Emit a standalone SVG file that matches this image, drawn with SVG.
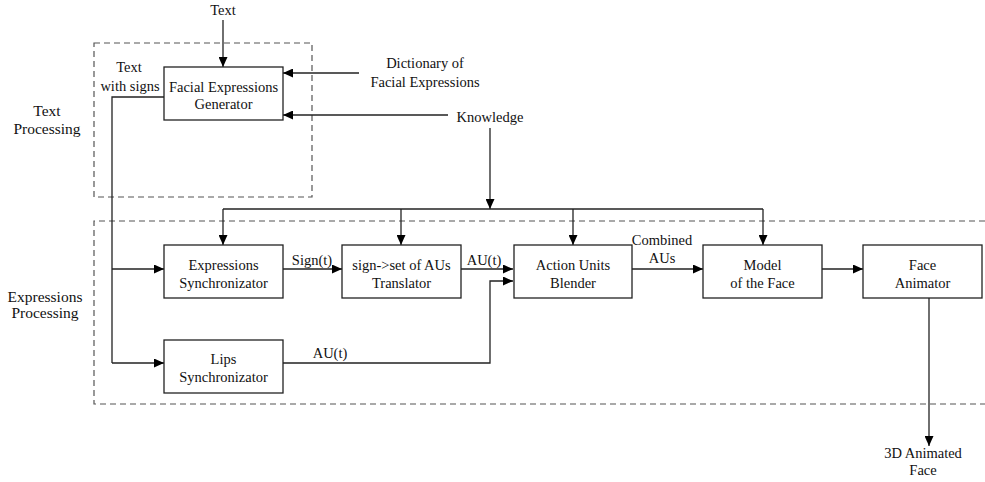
<svg xmlns="http://www.w3.org/2000/svg" width="985" height="482" viewBox="0 0 985 482">
<style>
text{font-family:"Liberation Serif","Times New Roman",serif;font-size:14.5px;fill:#111;text-anchor:middle}
.side{font-size:15.5px}
.box{fill:#fff;stroke:#222;stroke-width:1.3}
.dash{fill:none;stroke:#555;stroke-width:1.2;stroke-dasharray:6 4}
.c{fill:none;stroke:#222;stroke-width:1.3}
</style>
<defs>
<marker id="ah" markerWidth="11" markerHeight="9" refX="10" refY="4.5" orient="auto" markerUnits="userSpaceOnUse">
<path d="M0,0 L10,4.5 L0,9 z" fill="#000"/>
</marker>
</defs>
<g id="regions">
<rect class="dash" x="94" y="43" width="218" height="154"/>
<path class="dash" d="M985,221 H94 V404 H985"/>
<text class="side" x="47" y="116">Text</text>
<text class="side" x="47" y="134">Processing</text>
<text class="side" x="45" y="302">Expressions</text>
<text class="side" x="45" y="318">Processing</text>
</g>
<g id="connectors">
<path class="c" d="M223,20 V67" marker-end="url(#ah)"/>
<path class="c" d="M359,73 H283" marker-end="url(#ah)"/>
<path class="c" d="M448,115 H283" marker-end="url(#ah)"/>
<path class="c" d="M490,128 V209" marker-end="url(#ah)"/>
<path class="c" d="M223,209 H763"/>
<path class="c" d="M223,209 V245" marker-end="url(#ah)"/>
<path class="c" d="M401,209 V245" marker-end="url(#ah)"/>
<path class="c" d="M573,209 V245" marker-end="url(#ah)"/>
<path class="c" d="M763,209 V245" marker-end="url(#ah)"/>
<path class="c" d="M164,97 H112 V363"/>
<path class="c" d="M112,269 H164" marker-end="url(#ah)"/>
<path class="c" d="M112,363 H164" marker-end="url(#ah)"/>
<path class="c" d="M283,269 H342" marker-end="url(#ah)"/>
<path class="c" d="M461,269 H513" marker-end="url(#ah)"/>
<path class="c" d="M283,363 H490 V281 H513" marker-end="url(#ah)"/>
<path class="c" d="M632,269 H703" marker-end="url(#ah)"/>
<path class="c" d="M822,269 H863" marker-end="url(#ah)"/>
<path class="c" d="M929,298 V446" marker-end="url(#ah)"/>
<text x="223" y="15">Text</text>
<text x="425" y="68">Dictionary of</text>
<text x="425" y="87">Facial Expressions</text>
<text x="490" y="122">Knowledge</text>
<text x="129" y="72">Text</text>
<text x="130" y="91">with signs</text>
<text x="312" y="265">Sign(t)</text>
<text x="484" y="265">AU(t)</text>
<text x="330" y="358">AU(t)</text>
<text x="662" y="245">Combined</text>
<text x="662" y="263">AUs</text>
<text x="923" y="458">3D Animated</text>
<text x="923" y="475">Face</text>
</g>
<g id="feg">
<rect class="box" x="164" y="67" width="119" height="53"/>
<text x="223.5" y="92">Facial Expressions</text>
<text x="223.5" y="109">Generator</text>
</g>
<g id="expr-sync">
<rect class="box" x="164" y="245" width="119" height="53"/>
<text x="223.5" y="270">Expressions</text>
<text x="223.5" y="288">Synchronizator</text>
</g>
<g id="translator">
<rect class="box" x="342" y="245" width="119" height="53"/>
<text x="401.5" y="270">sign-&gt;set of AUs</text>
<text x="401.5" y="288">Translator</text>
</g>
<g id="blender">
<rect class="box" x="514" y="245" width="118" height="53"/>
<text x="573" y="270">Action Units</text>
<text x="573" y="288">Blender</text>
</g>
<g id="model">
<rect class="box" x="703" y="245" width="119" height="53"/>
<text x="762.5" y="270">Model</text>
<text x="762.5" y="288">of the Face</text>
</g>
<g id="face-animator">
<rect class="box" x="863" y="245" width="119" height="53"/>
<text x="922.5" y="270">Face</text>
<text x="922.5" y="288">Animator</text>
</g>
<g id="lips-sync">
<rect class="box" x="164" y="340" width="119" height="53"/>
<text x="223.5" y="364">Lips</text>
<text x="223.5" y="382">Synchronizator</text>
</g>
</svg>
